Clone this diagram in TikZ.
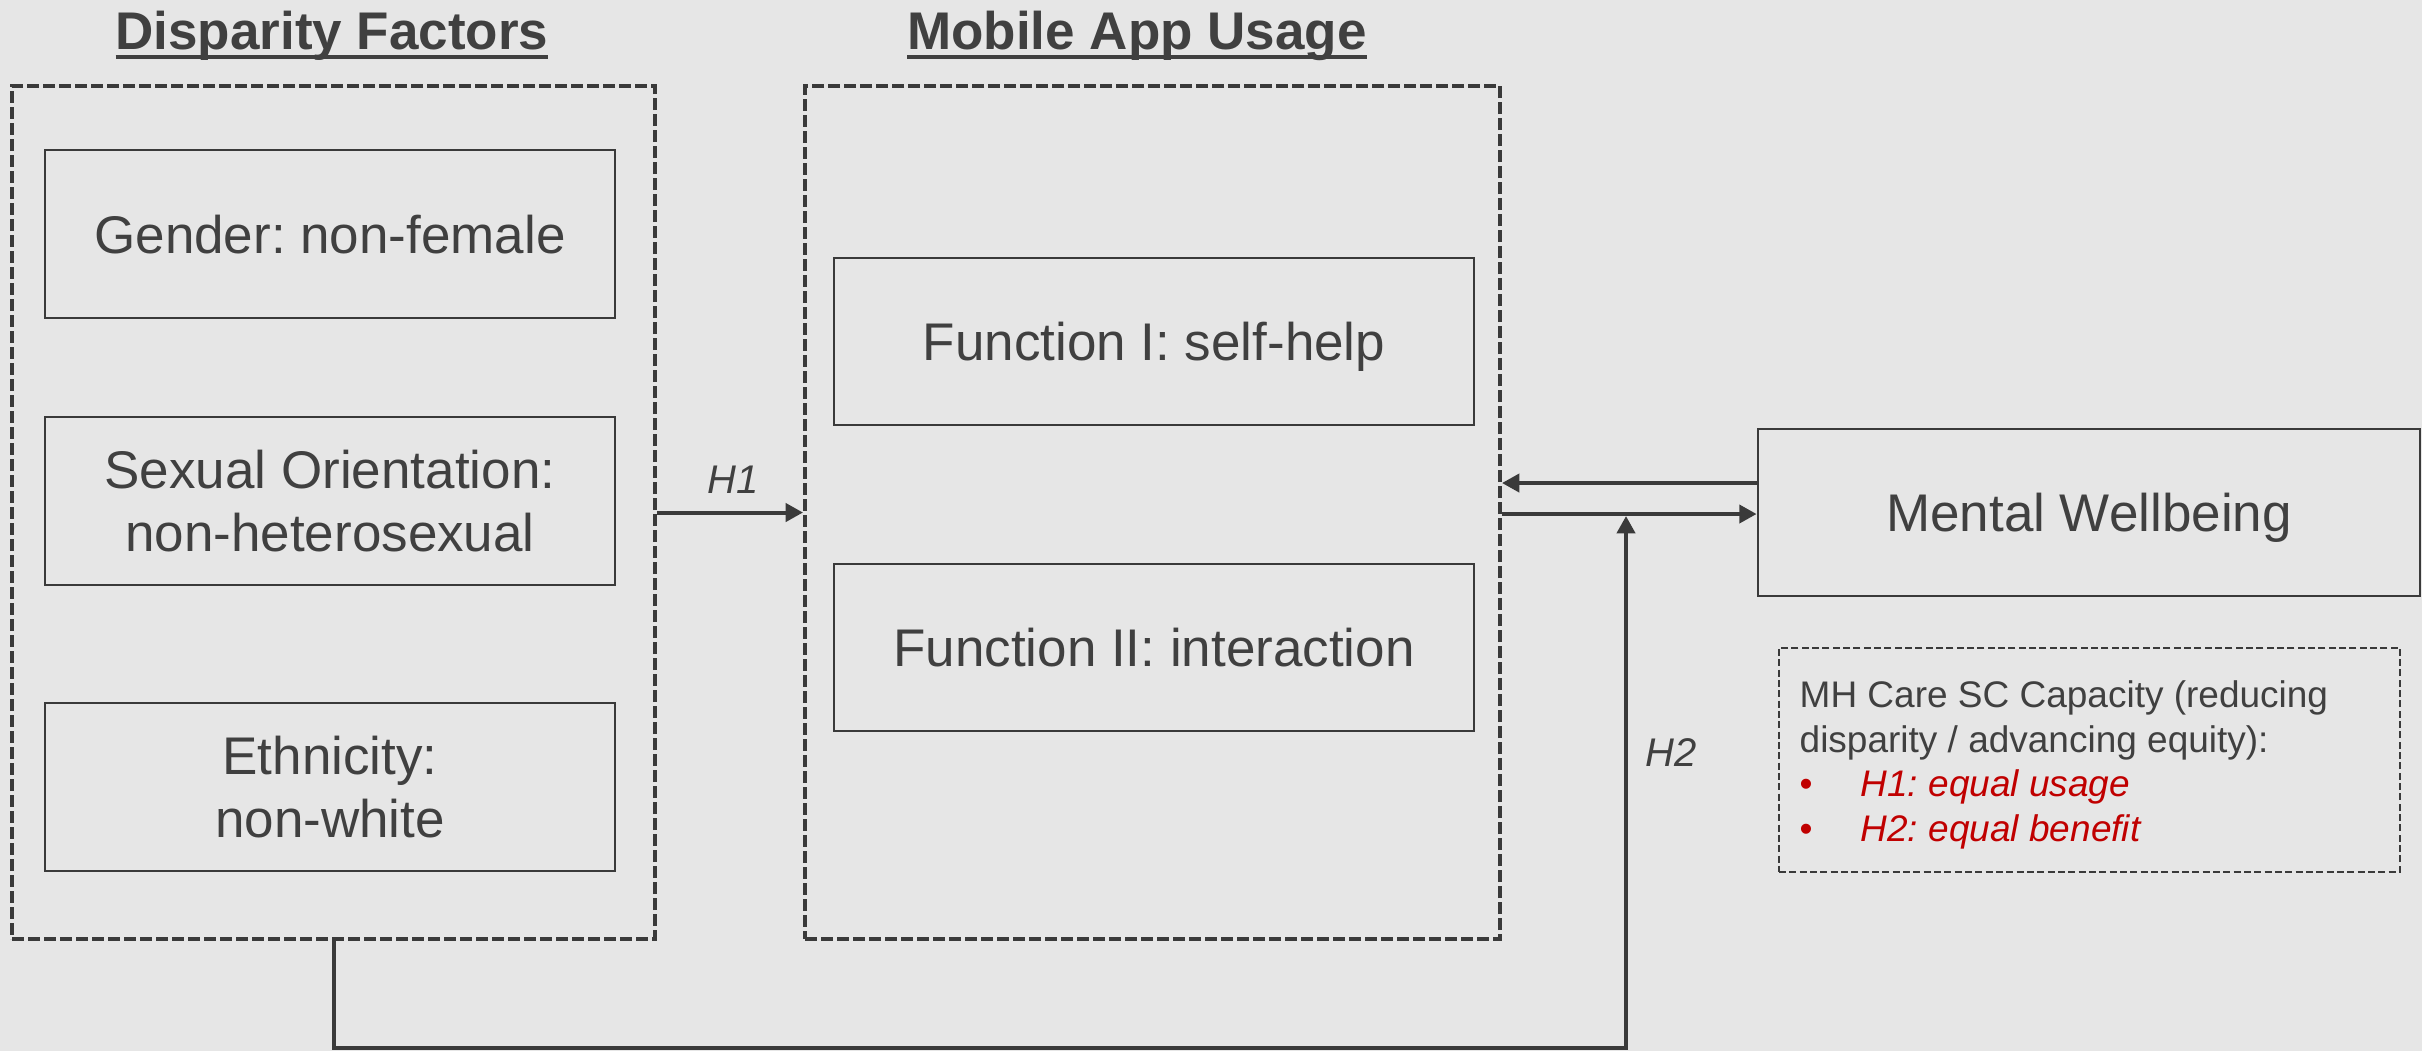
\documentclass[tikz,border=0pt]{standalone}
\usepackage{fontspec}
\setmainfont{Liberation Sans}
\usetikzlibrary{arrows.meta}

\definecolor{bgc}{HTML}{E6E6E6}
\definecolor{lnc}{HTML}{3A3A3A}
\definecolor{txc}{HTML}{404040}
\definecolor{rdc}{HTML}{C00000}

% bold heading with a heavy underline
\newcommand\headul[1]{\setbox0=\hbox{#1}\rlap{\rule[-3pt]{\wd0}{1.2pt}}\box0}

\frenchspacing
\begin{document}
\begin{tikzpicture}[x=0.3pt,y=-0.3pt,
  every node/.style={text=txc},
  groupbox/.style={draw=lnc, line width=1.2pt, dash pattern=on 3.5pt off 1.3pt,
    minimum height=255.9pt, inner sep=0pt},
  itembox/.style={draw=lnc, line width=0.85pt, align=center, inner sep=0pt,
    font=\fontsize{15.9}{19}\selectfont},
  oneline/.style={text height=11.4pt, text depth=0pt},
  notebox/.style={draw=lnc, line width=0.6pt, dash pattern=on 2.1pt off 1pt,
    minimum width=186.3pt, minimum height=67.2pt, inner sep=0pt},
  heading/.style={font=\bfseries\fontsize{15.9}{19}\selectfont, anchor=base, inner sep=0pt},
  hyplabel/.style={font=\itshape\fontsize{12}{14}\selectfont, anchor=base, inner sep=0pt},
  arr/.style={draw=lnc, line width=1.2pt, -{Triangle[length=5.2pt,width=5.4pt]}}]

% canvas
\fill[bgc] (0,0) rectangle (2422,1051);
\useasboundingbox (0,0) rectangle (2422,1051);

% headings
\node[heading] (thead1) at (332,49) {\headul{Disparity Factors}};
\node[heading] (thead2) at (1137,49) {\headul{Mobile App Usage}};

% disparity factors group
\node[groupbox, minimum width=192.9pt] (disp) at (333.5,512.5) {};
\node[itembox, oneline, minimum width=171pt, minimum height=50.4pt] (gender) at (330,234) {Gender: non-female};
\node[itembox, minimum width=171pt, minimum height=50.4pt] (sexual) at (330,501) {Sexual Orientation:\\non-heterosexual};
\node[itembox, minimum width=171pt, minimum height=50.4pt] (ethnic) at (330,787) {Ethnicity:\\non-white};

% mobile app usage group
\node[groupbox, minimum width=208.5pt] (mobile) at (1152.5,512.5) {};
\node[itembox, oneline, minimum width=192pt, minimum height=50.1pt] (func1) at (1154,341.5) {Function I: self-help};
\node[itembox, oneline, minimum width=192pt, minimum height=50.1pt] (func2) at (1154,647.5) {Function II: interaction};

% outcome
\node[itembox, oneline, minimum width=198.6pt, minimum height=50.1pt] (mw) at (2089,512.5) {Mental Wellbeing};

% capacity note
\node[notebox] (note) at (2089.5,759.5) {};
\node[anchor=north west, inner sep=0pt, align=left,
  font=\fontsize{11.1}{13.35}\selectfont] (notetext) at (1799,680)
  {MH Care SC Capacity (reducing\\
   disparity / advancing equity):\\
   \textcolor{rdc}{\makebox[18.3pt][l]{\textbullet}\itshape H1: equal usage}\\
   \textcolor{rdc}{\makebox[18.3pt][l]{\textbullet}\itshape H2: equal benefit}};

% connectors
\draw[arr] (disp.east) -- (mobile.west);
\node[hyplabel] (h1lab) at (733,493) {H1};

\draw[arr] (mw.west |- 0,483) -- (mobile.east |- 0,483);
\draw[arr] (mobile.east |- 0,514) -- (mw.west |- 0,514);

\coordinate (h2low) at (1626,1048);
\coordinate (h2tip) at (1626,516);
\draw[arr] (disp.south) |- (h2low) -- (h2tip);
\node[hyplabel] (h2lab) at (1671,766) {H2};

\end{tikzpicture}
\end{document}
